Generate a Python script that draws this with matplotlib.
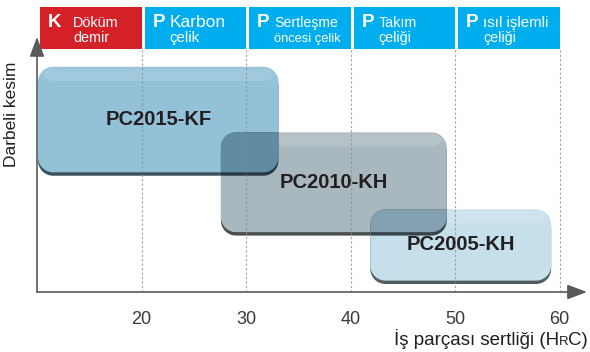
import numpy as np
import matplotlib
matplotlib.use('Agg')
import matplotlib.pyplot as plt
from matplotlib.patches import Polygon, Rectangle
from matplotlib.colors import to_rgb

plt.rcParams['font.family'] = ['Liberation Sans', 'DejaVu Sans']

# 刀片牌号及适用范围（横轴HRC，纵轴为相对冲击韧性）
grades = ['PC2015-KF', 'PC2010-KH', 'PC2005-KH']
hrc_low = [10.1, 27.6, 41.9]
hrc_high = [33.1, 49.2, 59.2]
tough_low = [42, 21, 4]
tough_high = [79, 56, 29]
grade_colors = ['#92c1d8', '#a9b8bf', '#c5dfeb']

# 工件材料分类（顶部色块）
mat_codes = ['K', 'P', 'P', 'P', 'P']
mat_line1 = ['Döküm', 'Karbon', 'Sertleşme', 'Takım', 'ısıl işlemli']
mat_line2 = ['demir', 'çelik', 'öncesi çelik', 'çeliği', 'çeliği']
mat_bounds = [10, 20, 30, 40, 50, 60]
mat_colors = ['#d42027', '#00aeef', '#00aeef', '#00aeef', '#00aeef']

x_ticks = [20, 30, 40, 50, 60]

# ---------------- 版式参数 ----------------
W, H = 590, 352
X0, X1 = 10, 62.63
Y0, Y1 = 0, 100
HEAD_LO = 85.3
AXIS_TOP = 89.5
RADIUS_PX = 15
line1_size = [10.4, 12.5, 10.2, 10.3, 10.8]
line2_size = [10.4, 10.8, 9.3, 10.4, 10.4]

fig = plt.figure(figsize=(W / 100, H / 100), dpi=100)
ax = fig.add_axes([37 / W, 1 - 292 / H, 550 / W, 285 / H])
ax.set_xlim(X0, X1)
ax.set_ylim(Y0, Y1)
for s in ax.spines.values():
    s.set_visible(False)
ax.set_yticks([])
ax.set_xticks(x_ticks)
ax.set_xticklabels([str(t) for t in x_ticks], fontsize=13, color='#3a3a3a')
ax.tick_params(axis='x', length=0, pad=14)

# 像素 -> 数据单位换算
px_x = 550 / (X1 - X0)
px_y = 285 / (Y1 - Y0)


def mult(c1, c2):
    a, b = np.array(to_rgb(c1)), np.array(to_rgb(c2))
    return tuple(a * b)


def darker(c, f=0.42):
    return tuple(np.array(to_rgb(c)) * f)


def rounded_xy(x0, y0, x1, y1, r_px=RADIUS_PX):
    """圆角矩形顶点（按像素半径换算成数据坐标的椭圆弧）"""
    rx, ry = r_px / px_x, r_px / px_y
    t = np.linspace(0, np.pi / 2, 12)
    pts = []
    corners = [(x1 - rx, y1 - ry, 0), (x0 + rx, y1 - ry, np.pi / 2),
               (x0 + rx, y0 + ry, np.pi), (x1 - rx, y0 + ry, 1.5 * np.pi)]
    for cx, cy, a0 in corners:
        pts.append(np.column_stack([cx + rx * np.cos(t + a0), cy + ry * np.sin(t + a0)]))
    return np.vstack(pts)


def rbox(x0, y0, x1, y1, color, z, dy=0.0, r_px=RADIUS_PX, **kw):
    p = Polygon(rounded_xy(x0, y0 - dy, x1, y1 - dy, r_px), closed=True,
                facecolor=color, edgecolor='none', zorder=z, **kw)
    ax.add_patch(p)
    return p


main_patches = []
shadow_patches = []
for i, name in enumerate(grades):
    z = 2 + i * 0.1
    sh = rbox(hrc_low[i], tough_low[i], hrc_high[i], tough_high[i],
              darker(grade_colors[i]), z, dy=1.2)
    mp = rbox(hrc_low[i], tough_low[i], hrc_high[i], tough_high[i],
              grade_colors[i], z + 0.01)
    # 顶部高光
    rbox(hrc_low[i] + 0.3, tough_high[i] - 5, hrc_high[i] - 0.3, tough_high[i] - 0.4,
         'white', z + 0.02, r_px=12, alpha=0.14)
    if i > 0:
        prev = i - 1
        ov1 = rbox(hrc_low[i], tough_low[i], hrc_high[i], tough_high[i],
                   mult(grade_colors[i], darker(grade_colors[prev])), z + 0.03)
        ov1.set_clip_path(shadow_patches[prev])
        ov2 = rbox(hrc_low[i], tough_low[i], hrc_high[i], tough_high[i],
                   mult(grade_colors[i], grade_colors[prev]), z + 0.04)
        ov2.set_clip_path(main_patches[prev])
    shadow_patches.append(sh)
    main_patches.append(mp)
    ax.text((hrc_low[i] + hrc_high[i]) / 2, (tough_low[i] + tough_high[i]) / 2, name,
            ha='center', va='center', fontsize=14.5, fontweight='bold',
            color='#231f20', zorder=5)

# 虚线网格
ax.vlines(x_ticks, 0, HEAD_LO, colors='#8c8c8c', linestyles=(0, (2, 2)),
          linewidth=0.8, alpha=0.8, zorder=4)

# 顶部材料色块
for i, code in enumerate(mat_codes):
    lo, hi = mat_bounds[i], mat_bounds[i + 1]
    ax.add_patch(Rectangle((lo + 0.3, HEAD_LO), hi - lo - 0.3, Y1 - HEAD_LO,
                           facecolor=mat_colors[i], edgecolor='none', zorder=6,
                           clip_on=False))
    ax.text(lo + 0.3 + 8 / px_x, 93.0, code, ha='left', va='baseline',
            fontsize=13.5, fontweight='bold', color='white', zorder=7)
    tx = lo + 0.3 + (33 if code == 'K' else 25) / px_x
    ax.text(tx, 93.0, mat_line1[i], ha='left', va='baseline',
            fontsize=line1_size[i], color='white', zorder=7)
    ax.text(tx, 87.6, mat_line2[i], ha='left', va='baseline',
            fontsize=line2_size[i], color='white', zorder=7)

# 坐标轴箭头
axis_c = '#5a5a5a'
ax.annotate('', xy=(X1, 0), xytext=(X0, 0), annotation_clip=False,
            arrowprops=dict(arrowstyle='-|>,head_length=1.2,head_width=0.45',
                            color=axis_c, lw=1.2, shrinkA=0, shrinkB=0), zorder=8)
ax.annotate('', xy=(X0, AXIS_TOP), xytext=(X0, 0), annotation_clip=False,
            arrowprops=dict(arrowstyle='-|>,head_length=1.2,head_width=0.45',
                            color=axis_c, lw=1.2, shrinkA=0, shrinkB=0), zorder=8)

# 轴标题
fig.text(12 / W, 1 - 114 / H, 'Darbeli kesim', rotation=90, ha='center', va='center',
         fontsize=12.5, color='#231f20')

r = fig.canvas.get_renderer()
base_y = 1 - 345 / H
t3 = fig.text(588 / W, base_y, 'C)', ha='right', va='baseline', fontsize=13.5, color='#231f20')
x_right = t3.get_window_extent(r).x0
t2 = fig.text(x_right / W, base_y, 'R', ha='right', va='baseline', fontsize=9.5, color='#231f20')
x_right = t2.get_window_extent(r).x0
fig.text(x_right / W, base_y, 'İş parçası sertliği (H', ha='right', va='baseline',
         fontsize=13.5, color='#231f20')

fig.savefig('out.png', dpi=100)
